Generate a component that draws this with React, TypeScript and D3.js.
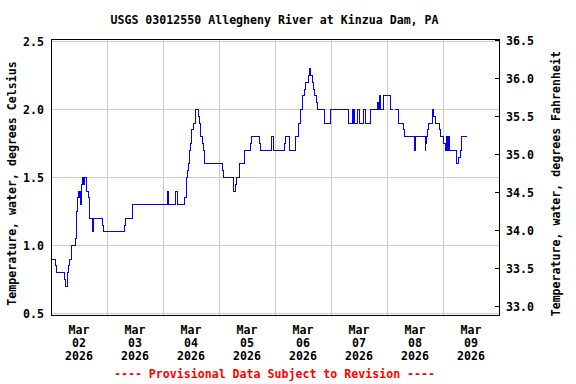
import React from "react";
import * as d3 from "d3";

const TITLE = "USGS 03012550 Allegheny River at Kinzua Dam, PA";
const LEFT_TITLE = "Temperature, water, degrees Celsius";
const RIGHT_TITLE = "Temperature, water, degrees Fahrenheit";
const FOOTER = "---- Provisional Data Subject to Revision ----";

const dayLabels = ["02", "03", "04", "05", "06", "07", "08", "09"];
const monthLabel = "Mar";
const yearLabel = "2026";
const celsiusTicks = [0.5, 1.0, 1.5, 2.0, 2.5];
const fahrenheitTicks = [33.0, 33.5, 34.0, 34.5, 35.0, 35.5, 36.0, 36.5];

// hours since Mar 02 2026 00:00 at which reading changes
const hours = [
  0, 1.9, 2.2, 5.6, 6.0, 7.2, 7.5, 7.8, 8.7, 10.4, 10.8, 11.2, 11.6, 11.9, 12.2, 12.5, 12.6, 12.9,
  13.2, 13.6, 14.1, 14.3, 15.1, 15.4, 15.9, 16.3, 16.7, 17.7, 18.0, 18.2, 22.0, 22.4, 31.3, 31.8,
  35.0, 49.9, 50.4, 53.4, 54.3, 57.1, 57.9, 58.2, 58.5, 58.8, 59.2, 59.7, 60.0, 60.4, 61.0, 61.8,
  63.1, 63.6, 64.0, 64.8, 65.3, 65.7, 73.3, 73.8, 78.4, 79.1, 79.4, 80.7, 82.8, 85.5, 85.8, 89.3,
  89.9, 94.7, 95.3, 100.0, 100.4, 102.4, 104.9, 106.2, 107.0, 107.6, 107.9, 108.6, 109.0, 110.4,
  110.7, 111.4, 111.9, 112.6, 113.0, 113.6, 114.0, 117.4, 119.7, 127.7, 129.3, 129.6, 129.9, 130.1,
  131.4, 132.4, 134.1, 134.7, 137.1, 140.0, 140.3, 140.6, 141.0, 142.7, 145.5, 146.6, 146.6, 147.4,
  149.1, 151.1, 151.7, 155.9, 156.4, 160.3, 160.6, 160.8, 161.4, 161.9, 163.6, 164.1, 164.6, 166.7,
  167.1, 168.1, 169.0, 169.6, 170.0, 170.4, 170.8, 173.9, 174.6, 175.3, 176.1, 178.2,
];
const tempC: (number | null)[] = [
  0.9, 0.85, 0.8, 0.75, 0.7, 0.8, 0.85, 0.9, 1.0, 1.05, 1.25, 1.35, 1.4, 1.35, 1.4, 1.35, 1.3, 1.4,
  1.45, 1.5, 1.45, 1.5, 1.45, 1.4, 1.35, 1.3, 1.2, 1.1, 1.15, 1.2, 1.15, 1.1, 1.15, 1.2,
  1.3, 1.4, 1.3, 1.4, 1.3, 1.35, 1.45, 1.5, 1.55, 1.6, 1.7, 1.75, 1.8, 1.85, 1.9, 2.0,
  1.95, 1.9, 1.8, 1.75, 1.7, 1.6, 1.55, 1.5, 1.4, 1.45, 1.5, 1.6, 1.7, 1.75, 1.8, 1.75,
  1.7, 1.8, 1.7, 1.75, 1.8, 1.7, 1.8, 1.9, 2.0, 2.05, 2.1, 2.15, 2.2, 2.25,
  2.3, 2.25, 2.2, 2.15, 2.1, 2.05, 2.0, 1.9, 2.0, 1.9, 2.0, 1.9, 2.0, 1.9,
  2.0, 1.9, 2.0, 1.9, 2.0, 2.05, 2.0, 2.1, 2.0, 2.1, 2.0, 2.0, null, 2.0,
  1.9, 1.85, 1.8, 1.7, 1.8, 1.7, 1.75, 1.8, 1.85, 1.9, 2.0, 1.95, 1.9, 1.85,
  1.8, 1.75, 1.7, 1.8, 1.7, 1.8, 1.7, 1.6, 1.65, 1.7, 1.8, 1.8,
];

const W = 576;
const H = 384;
const FONT = "'DejaVu Sans Mono', 'Liberation Mono', monospace";
const FS = 11.6;

export default function App() {
  const left = 51;
  const right = 499;
  const top = 39.5;
  const bottom = 315.5;

  const x = d3.scaleLinear().domain([0, 24 * dayLabels.length]).range([left, right]);
  const y = d3.scaleLinear().domain([0.5, 2.5]).range([313.5, 41.5]);
  const yF = d3.scaleLinear().domain([33.0, 36.5]).range([306.5, 40.5]);

  const pts = hours.map((h, i) => ({ h, v: tempC[i] }));
  const line = d3
    .line<{ h: number; v: number | null }>()
    .defined((d) => d.v !== null)
    .x((d) => x(d.h))
    .y((d) => y(d.v as number))
    .curve(d3.curveStepAfter);

  const days = d3.range(1, dayLabels.length);
  const cx = (left + right) / 2;

  return (
    <svg
      width={W}
      height={H}
      style={{ position: "absolute", left: 0, top: 0, background: "#fff" }}
      fontFamily={FONT}
      fontSize={FS}
      fontWeight="bold"
    >
      <rect x={0} y={0} width={W} height={H} fill="#fff" />
      <text x={274.5} y={24} textAnchor="middle" fill="#000">
        {TITLE}
      </text>
      {/* grid */}
      <g stroke="#cccccc" strokeWidth={1} shapeRendering="crispEdges">
        {celsiusTicks.map((t) => (
          <line key={"h" + t} x1={left} x2={right} y1={y(t)} y2={y(t)} />
        ))}
        {days.map((d) => (
          <line key={"v" + d} x1={x(d * 24)} x2={x(d * 24)} y1={top} y2={bottom} />
        ))}
      </g>
      {/* data */}
      <path d={line(pts) || ""} fill="none" stroke="#0000ff" strokeWidth={1} shapeRendering="crispEdges" />
      {/* frame */}
      <rect
        x={left}
        y={top}
        width={right - left}
        height={bottom - top}
        fill="none"
        stroke="#000"
        strokeWidth={1}
        shapeRendering="crispEdges"
      />
      {/* right ticks */}
      <g stroke="#000" shapeRendering="crispEdges">
        {fahrenheitTicks.map((t) => (
          <line key={"rt" + t} x1={right - 4} x2={right} y1={yF(t)} y2={yF(t)} />
        ))}
      </g>
      {/* left tick labels */}
      {celsiusTicks.map((t) => (
        <text key={"lt" + t} x={44} y={y(t) + 4.5} textAnchor="end" fill="#000">
          {t.toFixed(1)}
        </text>
      ))}
      {/* right tick labels */}
      {fahrenheitTicks.map((t) => (
        <text key={"rl" + t} x={506} y={yF(t) + 4} textAnchor="start" fill="#000">
          {t.toFixed(1)}
        </text>
      ))}
      {/* x labels */}
      {dayLabels.map((d, i) => {
        const xx = x(i * 24 + 12);
        return (
          <g key={"xl" + d} fill="#000">
            <text x={xx} y={333.5} textAnchor="middle">{monthLabel}</text>
            <text x={xx} y={346.5} textAnchor="middle">{d}</text>
            <text x={xx} y={359.5} textAnchor="middle">{yearLabel}</text>
          </g>
        );
      })}
      {/* axis titles */}
      <text transform={`translate(15.5, 183.5) rotate(-90)`} textAnchor="middle" fill="#000">
        {LEFT_TITLE}
      </text>
      <text transform={`translate(559.5, 183.7) rotate(-90)`} textAnchor="middle" fill="#000">
        {RIGHT_TITLE}
      </text>
      <text x={274.5} y={378} textAnchor="middle" fill="#ff0000">
        {FOOTER}
      </text>
      <text x={cx} y={-10} fill="none">{""}</text>
    </svg>
  );
}
